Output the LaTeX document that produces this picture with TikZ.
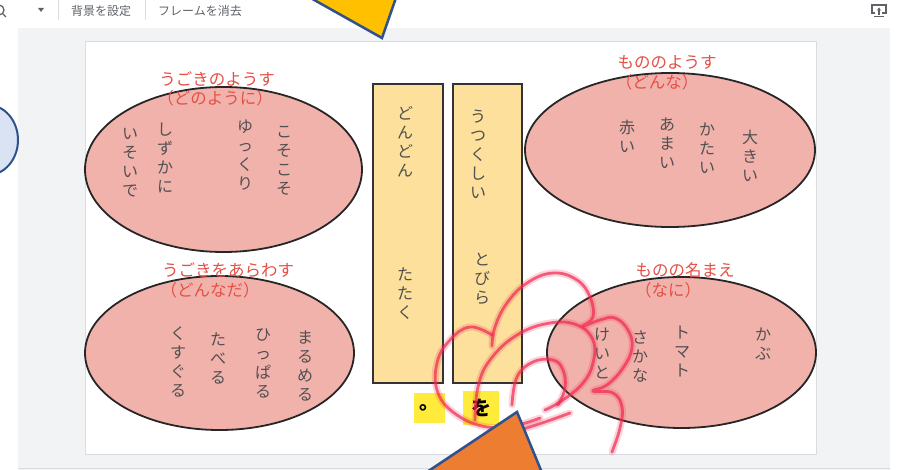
\documentclass[tikz,border=0pt]{standalone}
\usepackage{fontspec}
\setmainfont{Noto Sans CJK JP}
\usetikzlibrary{shapes.geometric,arrows.meta}
\definecolor{BlobPink}{RGB}{242,178,172}
\definecolor{BlobEdge}{RGB}{38,38,38}
\definecolor{CardYellow}{RGB}{252,224,155}
\definecolor{CardEdge}{RGB}{51,51,51}
\definecolor{WordGray}{RGB}{80,80,80}
\definecolor{TitleRed}{RGB}{228,80,70}
\definecolor{ChipYellow}{RGB}{255,235,59}
\definecolor{PanelGray}{RGB}{241,243,244}
\definecolor{LineGray}{RGB}{218,220,224}
\definecolor{ToolGray}{RGB}{95,99,104}
\definecolor{ScribbleRed}{RGB}{240,40,80}
\definecolor{TriOrange}{RGB}{237,125,49}
\definecolor{TriYellow}{RGB}{255,192,0}
\definecolor{TriBlue}{RGB}{47,82,143}
\definecolor{BlobBlue}{RGB}{218,227,243}

\tikzset{
  blob/.style={ellipse, draw=BlobEdge, line width=1.8pt, fill=BlobPink, inner sep=0pt},
  card/.style={rectangle, draw=CardEdge, line width=1.8pt, fill=CardYellow, inner sep=0pt},
  tate/.style={anchor=north, inner sep=0pt, align=center, text=WordGray, font=\fontsize{16}{19}\selectfont},
  heading/.style={inner sep=0pt, text=TitleRed, font=\fontsize{16.5}{20}\selectfont},
  chip/.style={rectangle, fill=ChipYellow, inner sep=0pt},
  tool/.style={inner sep=0pt, text=ToolGray, font=\fontsize{12}{14}\selectfont},
  scribble/.style={draw=ScribbleRed, line width=2.8pt, opacity=0.7, line cap=round, line join=round},
  scribblehalo/.style={draw=ScribbleRed, line width=7pt, opacity=0.2, line cap=round, line join=round},
}

\begin{document}
\begin{tikzpicture}[x=1pt, y=-1pt]
  \useasboundingbox (0,0) rectangle (898,470);
  \clip (0,0) rectangle (898,470);
  % window and slide
  \fill[white] (0,0) rectangle (898,470);
  \fill[PanelGray] (18,28) rectangle (890,470);
  \draw[LineGray, line width=1pt] (18,468.5) -- (890,468.5);
  \filldraw[fill=white, draw=LineGray, line width=1pt] (85,42) rectangle (816,455);

  % toolbar
  \draw[ToolGray, line width=1.3pt] (-1,10) circle [radius=5];
  \draw[ToolGray, line width=1.3pt] (3,14) -- (6,17);
  \fill[ToolGray] (38,8) -- (44,8) -- (41,12) -- cycle;
  \draw[LineGray, line width=1pt] (58,0) -- (58,20);
  \draw[LineGray, line width=1pt] (145,0) -- (145,20);
  \node[tool] (bgset) at (101,11) {背景を設定};
  \node[tool] (frameclear) at (200,11) {フレームを消去};
  \draw[ToolGray, line width=1.3pt] (875,13) -- (872,13) -- (872,5) -- (886,5) -- (886,13) -- (882,13);
  \draw[ToolGray, line width=1.3pt] (874,16.5) -- (884,16.5);
  \draw[ToolGray, line width=1.2pt, -{Stealth[length=3pt,width=4pt]}] (879,15) -- (879,7.5);

  % ellipses
  \node[blob, minimum width=277pt, minimum height=165pt] (how) at (223.5,169.5) {};
  \node[blob, minimum width=290pt, minimum height=154pt] (what) at (670,150) {};
  \node[blob, minimum width=269pt, minimum height=154pt] (move) at (219.5,353) {};
  \node[blob, minimum width=269pt, minimum height=151pt] (name) at (681.5,352.5) {};

  % headings
  \node[heading] (howtitle) at (217,79) {うごきのようす};
  \node[heading] (howsub) at (215,98) {（どのように）};
  \node[heading] (whattitle) at (667,62) {もののようす};
  \node[heading] (whatsub) at (657,82) {（どんな）};
  \node[heading] (movetitle) at (228,270) {うごきをあらわす};
  \node[heading] (movesub) at (210,290) {（どんなだ）};
  \node[heading] (nametitle) at (685,270) {ものの名まえ};
  \node[heading] (namesub) at (668,290) {（なに）};

  % words in the ellipses
  \node[tate] (koso) at (284,126) {こ\\そ\\こ\\そ};
  \node[tate] (yukkuri) at (245,120) {ゆ\\っ\\く\\り};
  \node[tate] (shizuka) at (165,123) {し\\ず\\か\\に};
  \node[tate] (isoide) at (130,128) {い\\そ\\い\\で};
  \node[tate] (ookii) at (750,130) {大\\き\\い};
  \node[tate] (katai) at (707,123) {か\\た\\い};
  \node[tate] (amai) at (667,118) {あ\\ま\\い};
  \node[tate] (akai) at (627,120) {赤\\い};
  \node[tate] (marumeru) at (305,331) {ま\\る\\め\\る};
  \node[tate] (hipparu) at (263,328) {ひ\\っ\\ぱ\\る};
  \node[tate] (taberu) at (218,333) {た\\べ\\る};
  \node[tate] (kusuguru) at (178,326) {く\\す\\ぐ\\る};
  \node[tate] (kabu) at (763,328) {か\\ぶ};
  \node[tate] (tomato) at (682,326) {ト\\マ\\ト};
  \node[tate] (sakana) at (640,331) {さ\\か\\な};
  \node[tate] (keito) at (602,328) {け\\い\\と};

  % cards
  \node[card, minimum width=70pt, minimum height=299pt] (cardone) at (408,233.5) {};
  \node[card, minimum width=69pt, minimum height=299pt] (cardtwo) at (487.5,233.5) {};
  \node[tate] (dondon) at (405,106) {ど\\ん\\ど\\ん};
  \node[tate] (tataku) at (405,268) {た\\た\\く};
  \node[tate] (utsukushii) at (478,110) {う\\つ\\く\\し\\い};
  \node[tate] (tobira) at (482,253) {と\\び\\ら};

  % chips
  \node[chip, minimum width=31pt, minimum height=30pt, font=\fontsize{20}{22}\selectfont\bfseries] (maru) at (429.5,408) {。};
  \node[chip, minimum width=36pt, minimum height=34pt, font=\fontsize{20}{22}\selectfont\bfseries] (wo) at (481,408) {を};

  % freehand loops
  \foreach \pen in {scribblehalo, scribble} {
    \draw[\pen] plot[smooth, tension=0.7] coordinates {(492,346) (495,327) (507,303) (527,283) (553,273) (577,280) (590,297) (593,317) (583,326) (600,320) (615,318) (628,330) (632,348) (623,368) (607,385) (593,391) (613,393) (622,407) (620,428) (612,452)};
    \draw[\pen] plot[smooth, tension=0.7] coordinates {(492,335) (470,327) (450,340) (437,363) (438,393) (457,415) (487,427) (517,425) (540,418)};
    \draw[\pen] plot[smooth, tension=0.7] coordinates {(475,420) (478,387) (490,360) (517,335) (550,323) (577,325) (593,340) (593,363) (583,383) (563,400) (545,410)};
    \draw[\pen] plot[smooth, tension=0.7] coordinates {(512,405) (517,377) (533,362) (553,360) (563,370) (565,388) (558,405)};
    \draw[\pen] plot[smooth, tension=0.7] coordinates {(520,430) (545,422) (570,413)};
  }

  % shapes lying over the window
  \filldraw[fill=BlobBlue, draw=TriBlue, line width=2pt] (-12,140) ellipse [x radius=30, y radius=35];
  \filldraw[fill=TriYellow, draw=TriBlue, line width=2.5pt] (382,38) -- (300,-8) -- (398,-8) -- cycle;
  \filldraw[fill=TriOrange, draw=TriBlue, line width=2.5pt] (517,412) -- (415,480) -- (545,480) -- cycle;
\end{tikzpicture}
\end{document}
